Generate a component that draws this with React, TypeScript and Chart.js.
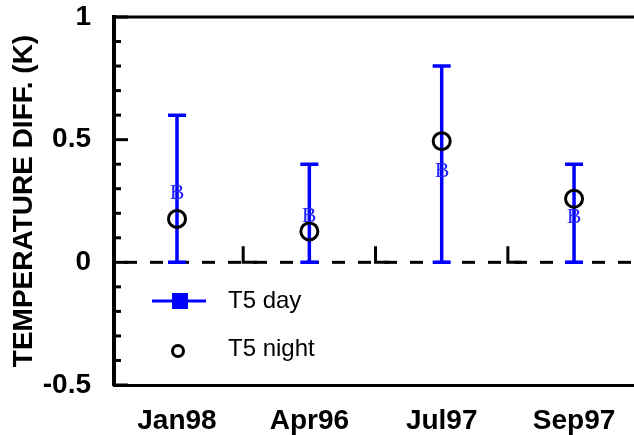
import React, { useEffect, useRef } from 'react';
import { Chart, registerables } from 'chart.js';

Chart.register(...registerables);

const categories = ['Jan98', 'Apr96', 'Jul97', 'Sep97'];
const dayMarker = [0.29, 0.195, 0.38, 0.19];
const dayLow = [0, 0, 0, 0];
const dayHigh = [0.6, 0.4, 0.8, 0.4];
const nightValues = [0.177, 0.126, 0.494, 0.259];
const yTickLabels = ['-0.5', '0', '0.5', '1'];
const yMinorStep = 0.1;
const legendLabels = ['T5 day', 'T5 night'];

const SANS = '"Liberation Sans", Arial, Helvetica, sans-serif';
const BLUE = '#0000ff';

const customPlugin = {
  id: 'customDraw',
  beforeDatasetsDraw(chart: any) {
    const { ctx, chartArea, scales } = chart;
    const x = scales.x;
    const y = scales.y;
    ctx.save();
    const y0 = y.getPixelForValue(0);
    // zero dashed line
    ctx.strokeStyle = '#000';
    ctx.lineWidth = 3;
    ctx.setLineDash([13, 13]);
    ctx.lineDashOffset = -10;
    ctx.beginPath();
    ctx.moveTo(chartArea.left, y0);
    ctx.lineTo(chartArea.right, y0);
    ctx.stroke();
    ctx.setLineDash([]);
    // category boundary ticks (L shapes)
    for (let i = 0; i < categories.length - 1; i++) {
      const xb = (x.getPixelForValue(i) + x.getPixelForValue(i + 1)) / 2;
      ctx.beginPath();
      ctx.moveTo(xb, y0 - 16);
      ctx.lineTo(xb, y0);
      ctx.lineTo(xb + 14, y0);
      ctx.stroke();
    }
    // error bars
    ctx.strokeStyle = BLUE;
    ctx.lineWidth = 3.5;
    categories.forEach((_, i) => {
      const px = x.getPixelForValue(i);
      const yl = y.getPixelForValue(dayLow[i]);
      const yh = y.getPixelForValue(dayHigh[i]);
      ctx.beginPath();
      ctx.moveTo(px, yl);
      ctx.lineTo(px, yh);
      ctx.moveTo(px - 9, yh);
      ctx.lineTo(px + 9, yh);
      ctx.moveTo(px - 9, yl);
      ctx.lineTo(px + 9, yl);
      ctx.stroke();
    });
    ctx.restore();
  },
  afterDatasetDraw(chart: any, args: any) {
    if (args.index !== 0) return;
    const { ctx } = chart;
    const meta = chart.getDatasetMeta(0);
    ctx.save();
    ctx.fillStyle = '#2424ff';
    ctx.font = '22px "Liberation Serif", "Times New Roman", serif';
    ctx.textAlign = 'center';
    ctx.textBaseline = 'alphabetic';
    meta.data.forEach((pt: any) => {
      ctx.fillText('B', Math.round(pt.x), Math.round(pt.y + 7.5));
    });
    ctx.restore();
  },
  afterDraw(chart: any) {
    const { ctx, chartArea, scales } = chart;
    const y = scales.y;
    ctx.save();
    // top border
    ctx.strokeStyle = '#000';
    ctx.lineWidth = 3;
    ctx.beginPath();
    ctx.moveTo(chartArea.left - 2, chartArea.top);
    ctx.lineTo(chartArea.right, chartArea.top);
    ctx.stroke();
    // inward y ticks
    for (let k = -5; k <= 10; k++) {
      const v = Math.round(k * yMinorStep * 10) / 10;
      const major = yTickLabels.includes(String(v));
      const py = y.getPixelForValue(v);
      ctx.beginPath();
      ctx.moveTo(chartArea.left, py);
      ctx.lineTo(chartArea.left + (major ? 14 : 7), py);
      ctx.stroke();
    }
    // legend
    const lx = 152;
    const ly1 = 301;
    const ly2 = 349;
    ctx.strokeStyle = BLUE;
    ctx.lineWidth = 3;
    ctx.beginPath();
    ctx.moveTo(lx, ly1);
    ctx.lineTo(lx + 54, ly1);
    ctx.stroke();
    ctx.fillStyle = BLUE;
    ctx.fillRect(lx + 20, ly1 - 8, 16, 16);
    ctx.strokeStyle = '#000';
    ctx.lineWidth = 3;
    ctx.beginPath();
    ctx.arc(lx + 26, ly2 + 2, 5.5, 0, Math.PI * 2);
    ctx.stroke();
    ctx.fillStyle = '#000';
    ctx.font = '24px ' + SANS;
    ctx.textAlign = 'left';
    ctx.textBaseline = 'middle';
    ctx.fillText(legendLabels[0], 228, ly1);
    ctx.fillText(legendLabels[1], 228, ly2);
    ctx.restore();
  },
};

export default function App() {
  const ref = useRef<HTMLCanvasElement | null>(null);
  useEffect(() => {
    if (!ref.current) return;
    const chart = new Chart(ref.current, {
      type: 'line',
      data: {
        datasets: [
          {
            label: legendLabels[0],
            data: categories.map((_, i) => ({ x: i, y: dayMarker[i] })),
            showLine: false,
            pointRadius: 0,
            borderColor: BLUE,
            backgroundColor: BLUE,
          },
          {
            label: legendLabels[1],
            data: categories.map((_, i) => ({ x: i, y: nightValues[i] })),
            showLine: false,
            pointStyle: 'circle',
            pointRadius: 8.5,
            pointBorderWidth: 3,
            pointBorderColor: '#000',
            pointBackgroundColor: 'rgba(0,0,0,0)',
            borderColor: '#000',
          },
        ],
      },
      options: {
        responsive: false,
        animation: false,
        layout: { autoPadding: false, padding: { top: 17, left: 0, right: 0, bottom: 0 } },
        plugins: { legend: { display: false }, tooltip: { enabled: false } },
        scales: {
          x: {
            type: 'linear',
            min: -0.476,
            max: 3.453,
            afterBuildTicks: (s: any) => {
              s.ticks = categories.map((_, i) => ({ value: i }));
            },
            afterFit: (s: any) => {
              s.height = 50;
              s.paddingLeft = 0;
              s.paddingRight = 0;
              s.paddingTop = 0;
              s.paddingBottom = 0;
            },
            grid: { display: true, drawOnChartArea: false, drawTicks: false },
            border: { display: true, color: '#000', width: 3 },
            ticks: {
              callback: (v: any) => categories[v] ?? '',
              color: '#000',
              font: { family: SANS, size: 28, weight: 'bold' },
              padding: 19,
              maxRotation: 0,
              autoSkip: false,
            },
          },
          y: {
            type: 'linear',
            min: -0.5,
            max: 1,
            afterBuildTicks: (s: any) => {
              const t = [];
              for (let k = -5; k <= 10; k++) t.push({ value: Math.round(k * yMinorStep * 10) / 10 });
              s.ticks = t;
            },
            afterFit: (s: any) => {
              s.width = 114;
              s.paddingLeft = 0;
              s.paddingRight = 0;
              s.paddingTop = 0;
              s.paddingBottom = 0;
            },
            grid: { display: true, drawOnChartArea: false, drawTicks: false },
            border: { display: true, color: '#000', width: 4 },
            ticks: {
              callback: (v: any) => {
                const l = String(Math.round(v * 10) / 10);
                return yTickLabels.includes(l) ? l : '';
              },
              color: '#000',
              font: { family: SANS, size: 28, weight: 'bold' },
              padding: 23,
              autoSkip: false,
            },
            title: {
              display: true,
              text: 'TEMPERATURE DIFF. (K)',
              color: '#000',
              font: { family: SANS, size: 28, weight: 'bold' },
              padding: { top: 7, bottom: 0 },
            },
          },
        },
      },
      plugins: [customPlugin],
    });
    return () => chart.destroy();
  }, []);
  return (
    <div style={{ position: 'fixed', left: 0, top: 0, width: 634, height: 435, background: '#fff' }}>
      <canvas ref={ref} width={634} height={435} style={{ width: 634, height: 435, display: 'block' }} />
    </div>
  );
}
